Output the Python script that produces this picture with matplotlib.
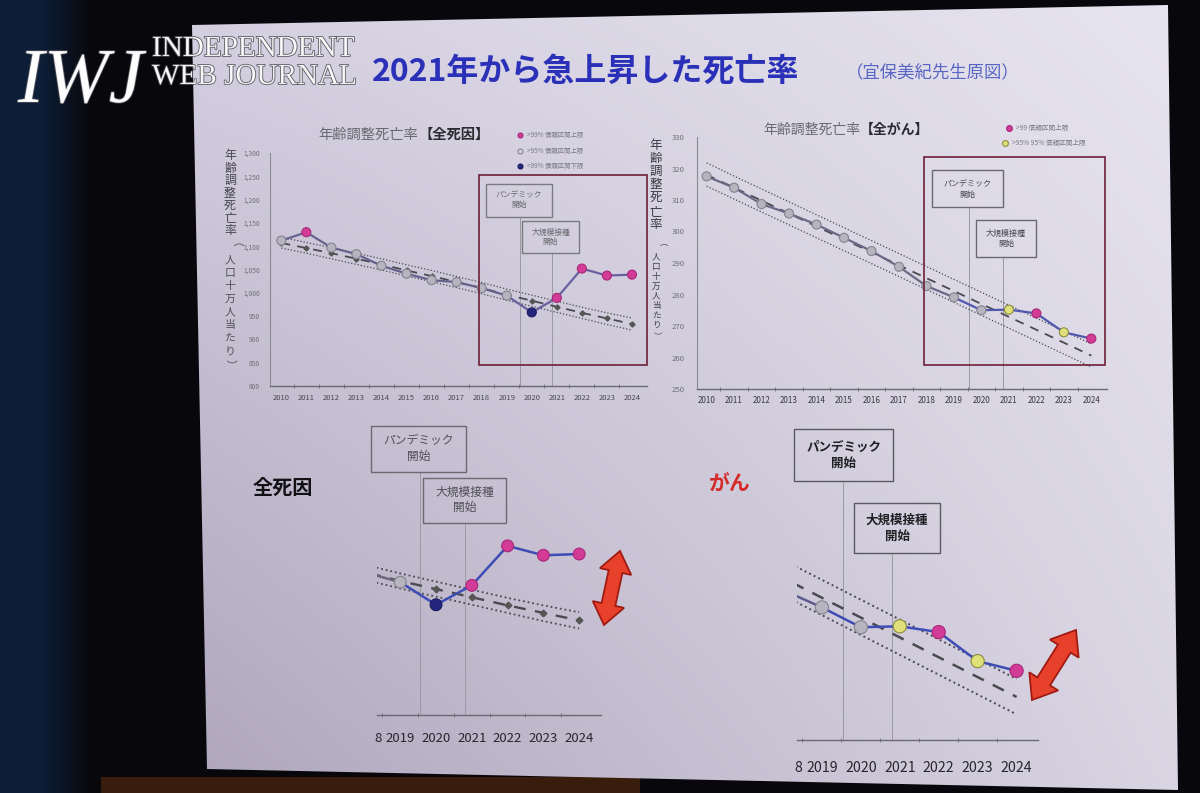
import numpy as np
import matplotlib
matplotlib.use("Agg")
import matplotlib.pyplot as plt
from matplotlib.patches import Rectangle, Polygon
import matplotlib.patheffects as pe

plt.rcParams['font.family'] = ['Noto Sans CJK JP', 'DejaVu Sans']

# ---------------- data ----------------
years = [2010, 2011, 2012, 2013, 2014, 2015, 2016, 2017,
         2018, 2019, 2020, 2021, 2022, 2023, 2024]
year_labels = [str(y) for y in years]

# all causes (age-adjusted mortality per 100k)
all_cause = [1112, 1130, 1097, 1083, 1058, 1041, 1027, 1023,
             1010, 994, 958, 989, 1052, 1037, 1039]
all_cause_expected = [1107, 1096, 1085, 1073, 1061, 1048, 1036, 1023,
                      1010, 996, 983, 970, 957, 945, 933]
all_cause_upper = [1119, 1108, 1097, 1085, 1073, 1060, 1048, 1035,
                   1022, 1008, 995, 982, 969, 957, 946]
all_cause_lower = [1096, 1085, 1073, 1061, 1049, 1036, 1024, 1011,
                   998, 984, 971, 958, 945, 932, 920]
all_cause_flag = ['n', 'u99', 'n', 'n', 'n', 'n', 'n', 'n',
                  'n', 'n', 'l99', 'u99', 'u99', 'u99', 'u99']
all_cause_yticks = [800, 850, 900, 950, 1000, 1050, 1100, 1150, 1200, 1250, 1300]
all_cause_yticklabels = ['800', '850', '900', '950', '1,000', '1,050', '1,100',
                         '1,150', '1,200', '1,250', '1,300']

# all cancers
cancer = [317.5, 313.9, 308.7, 305.7, 302.2, 298.0, 293.8, 288.8,
          282.7, 279.1, 275.0, 275.2, 274.0, 268.0, 266.0]
cancer_expected = [318.0, 313.9, 309.8, 305.7, 301.6, 297.5, 293.4, 289.3,
                   285.2, 281.1, 277.0, 272.9, 268.8, 264.7, 260.6]
cancer_upper = [321.8, 317.6, 313.5, 309.4, 305.3, 301.2, 297.1, 293.0,
                288.9, 284.8, 280.7, 276.6, 272.5, 268.4, 264.3]
cancer_lower = [314.4, 310.3, 306.2, 302.1, 298.0, 293.9, 289.8, 285.7,
                281.6, 277.5, 273.4, 269.3, 265.2, 261.1, 257.0]
cancer_flag = ['n', 'n', 'n', 'n', 'n', 'n', 'n', 'n',
               'n', 'n', 'n', 'u95', 'u99', 'u95', 'u99']
cancer_yticks = [250, 260, 270, 280, 290, 300, 310, 320, 330]

pandemic_x = 2019.55
vaccine_x = 2020.8

# ---------------- styling ----------------
W, H = 1200, 793
FLAG_FACE = {'n': '#b6b4be', 'u99': '#d23c96', 'l99': '#25257e', 'u95': '#e0e07a'}
FLAG_EDGE = {'n': '#85838f', 'u99': '#a8287a', 'l99': '#1a1a60', 'u95': '#8c8c40'}

fig = plt.figure(figsize=(12, 7.93), dpi=100)
fig.patch.set_facecolor('#08080b')


def rect(x0, y0, x1, y1):
    return [x0 / W, 1 - y1 / H, (x1 - x0) / W, (y1 - y0) / H]


# background (pixel coordinates)
bg = fig.add_axes([0, 0, 1, 1])
bg.set_xlim(0, W)
bg.set_ylim(H, 0)
bg.axis('off')

xx = np.arange(W)[None, :] / W
yy = np.arange(H)[:, None] / H
img = np.zeros((H, W, 3))
dark = np.array([0.035, 0.035, 0.05])
navy = np.array([0.05, 0.12, 0.22])
wcur = np.clip(1 - (np.arange(W) - 40) / 50.0, 0, 1)[None, :]
img[:] = dark
img = img * (1 - wcur[..., None]) + navy * wcur[..., None] * np.ones((H, 1, 1))
glow = ((np.arange(H)[:, None] > 776) & (np.arange(W)[None, :] > 100) & (np.arange(W)[None, :] < 640))
img[glow] = [0.22, 0.11, 0.05]
bg.imshow(img, extent=(0, W, H, 0), aspect='auto', zorder=0)

# slide with soft vignette
c_tl = np.array([0xd2, 0xcd, 0xdf]) / 255
c_tr = np.array([0xe7, 0xe5, 0xef]) / 255
c_bl = np.array([0xa6, 0x9c, 0xb4]) / 255
c_br = np.array([0xda, 0xd6, 0xe4]) / 255
X = xx[..., None]
Y = yy[..., None]
slide_img = (c_tl * (1 - X) * (1 - Y) + c_tr * X * (1 - Y) +
             c_bl * (1 - X) * Y + c_br * X * Y)
slide_poly = Polygon([(192, 25), (1168, 5), (1178, 790), (207, 769)],
                     closed=True, facecolor='none', edgecolor='none',
                     transform=bg.transData)
bg.add_patch(slide_poly)
im = bg.imshow(slide_img, extent=(0, W, H, 0), aspect='auto', zorder=1)
im.set_clip_path(slide_poly)
bg.set_xlim(0, W)
bg.set_ylim(H, 0)


# ---------------- chart helper ----------------
def draw_chart(ax, vals, exp, up, lo, flags, xlim, ylim, *, ms, lw,
               line_pre, line_post, exp_marker, band_lw, tick_fs,
               tick_color, label_pad, yaxis=True, yticks=None,
               yticklabels=None, ytick_fs=5, ypad=6):
    ax.patch.set_visible(False)
    ax.plot(years, up, ls=(0, (1, 1.6)), color='#4a4a55', lw=band_lw, zorder=2)
    ax.plot(years, lo, ls=(0, (1, 1.6)), color='#4a4a55', lw=band_lw, zorder=2)
    if exp_marker:
        ax.plot(years, exp, ls=(0, (5, 4)), color='#4a4a50', lw=band_lw + 0.4,
                marker='D', ms=exp_marker, mfc='#555', mec='#555', zorder=2)
    else:
        ax.plot(years, exp, ls=(0, (5, 4)), color='#4a4a50', lw=band_lw + 0.4, zorder=2)
    split = years.index(2019)
    ax.plot(years[:split + 1], vals[:split + 1], color=line_pre, lw=lw, zorder=3)
    ax.plot(years[split:], vals[split:], color=line_post, lw=lw, zorder=3)
    ax.scatter(years, vals, s=ms ** 2,
               c=[FLAG_FACE[f] for f in flags],
               edgecolors=[FLAG_EDGE[f] for f in flags],
               linewidths=0.8, zorder=4)
    for s in ['top', 'right']:
        ax.spines[s].set_visible(False)
    ax.spines['bottom'].set_color('#6a6a72')
    ax.spines['bottom'].set_linewidth(1.0)
    ax.set_xticks(years)
    ax.set_xticklabels(year_labels)
    ax.set_xticks([y + 0.5 for y in years[:-1]] + [years[0] - 0.5], minor=True)
    ax.tick_params(axis='x', which='major', length=0, labelsize=tick_fs,
                   labelcolor=tick_color, pad=label_pad)
    ax.tick_params(axis='x', which='minor', length=3, color='#6a6a72',
                   direction='inout')
    if yaxis:
        ax.spines['left'].set_color('#8a8a92')
        ax.spines['left'].set_linewidth(0.8)
        ax.set_yticks(yticks)
        ax.set_yticklabels(yticklabels)
        ax.tick_params(axis='y', length=0, labelsize=ytick_fs,
                       labelcolor='#707078', pad=ypad)
    else:
        ax.spines['left'].set_visible(False)
        ax.set_yticks([])
    ax.set_xlim(*xlim)
    ax.set_ylim(*ylim)
    ax.set_autoscale_on(False)


def event_boxes(ax, pand, vacc, fs, color, ybase, weight='normal', ec='#7a7a80'):
    for (x0, y0, w, h), label, xv in [(pand, 'パンデミック\n開始', pandemic_x),
                                       (vacc, '大規模接種\n開始', vaccine_x)]:
        ax.add_patch(Rectangle((x0, y0), w, h, fill=False, ec=ec, lw=1.0,
                               clip_on=False, zorder=5))
        ax.text(x0 + w / 2, y0 + h / 2, label, ha='center', va='center',
                fontsize=fs, color=color, linespacing=1.25, weight=weight,
                clip_on=False, zorder=5)
        ax.plot([xv, xv], [ybase, y0], color='#9a9aa2', lw=0.7, zorder=1,
                clip_on=False)


# ---------------- top-left: all causes ----------------
ax1 = fig.add_axes(rect(270, 153, 647, 386))
draw_chart(ax1, all_cause, all_cause_expected, all_cause_upper, all_cause_lower,
           all_cause_flag, (2009.55, 2024.6), (800, 1300), ms=6.5, lw=1.6,
           line_pre='#66628e', line_post='#6a609e', exp_marker=2.6, band_lw=0.9,
           tick_fs=5.5, tick_color='#4a4a52', label_pad=6,
           yticks=all_cause_yticks, yticklabels=all_cause_yticklabels,
           ytick_fs=4.8, ypad=7)
ax1.add_patch(Rectangle((2017.9, 845), 6.7, 408, fill=False, ec='#6e2038',
                        lw=1.2, clip_on=False, zorder=5))
event_boxes(ax1, (2018.17, 1162, 2.63, 72), (2019.6, 1085, 2.3, 69),
            5.6, '#6a6a70', 800)

# ---------------- top-right: all cancers ----------------
ax2 = fig.add_axes(rect(697, 137, 1107, 389))
draw_chart(ax2, cancer, cancer_expected, cancer_upper, cancer_lower,
           cancer_flag, (2009.65, 2024.57), (250, 330), ms=6.5, lw=1.6,
           line_pre='#6a6a86', line_post='#5058ae', exp_marker=None, band_lw=0.9,
           tick_fs=5.8, tick_color='#3a3a42', label_pad=5,
           yticks=cancer_yticks, yticklabels=[str(t) for t in cancer_yticks],
           ytick_fs=5.6, ypad=9)
ax2.add_patch(Rectangle((2017.9, 257.7), 6.6, 66, fill=False, ec='#6e2038',
                        lw=1.2, clip_on=False, zorder=5))
event_boxes(ax2, (2018.2, 307.8, 2.6, 11.6), (2019.8, 292, 2.2, 11.6),
            5.8, '#4a4a50', 250, ec='#6a6a70')

# ---------------- bottom-left: zoom all causes ----------------
ax3 = fig.add_axes(rect(377, 420, 601, 715))
draw_chart(ax3, all_cause, all_cause_expected, all_cause_upper, all_cause_lower,
           all_cause_flag, (2018.35, 2024.61), (782, 1253), ms=8.5, lw=1.8,
           line_pre='#6a6a78', line_post='#3e4cb5', exp_marker=3.4, band_lw=1.3,
           tick_fs=9.5, tick_color='#26262c', label_pad=12.5, yaxis=False)
ax3.text(2018.39, -0.081, '8', transform=ax3.get_xaxis_transform(),
         ha='center', va='center', fontsize=9.5, color='#26262c')
event_boxes(ax3, (2018.18, 1170, 2.66, 74), (2019.64, 1089, 2.32, 72),
            8.5, '#505058', 782, ec='#6a6a70')

# ---------------- bottom-right: zoom cancers ----------------
ax4 = fig.add_axes(rect(797, 425, 1038, 740))
draw_chart(ax4, cancer, cancer_expected, cancer_upper, cancer_lower,
           cancer_flag, (2018.36, 2024.55), (251.7, 316.8), ms=9.5, lw=1.8,
           line_pre='#5a5a8c', line_post='#3e4cb5', exp_marker=None, band_lw=1.4,
           tick_fs=10.2, tick_color='#26262c', label_pad=15, yaxis=False)
ax4.text(2018.39, -0.089, '8', transform=ax4.get_xaxis_transform(),
         ha='center', va='center', fontsize=10.2, color='#26262c')
event_boxes(ax4, (2018.29, 305.2, 2.54, 10.7), (2019.83, 290.3, 2.2, 10.3),
            9, '#202024', 251.7, weight='bold', ec='#5a5a60')

# ---------------- overlay (pixel coordinates) ----------------
ov = fig.add_axes([0, 0, 1, 1])
ov.set_xlim(0, W)
ov.set_ylim(H, 0)
ov.axis('off')
ov.patch.set_visible(False)

# slide title
ov.text(372, 72, '2021年から急上昇した死亡率', fontsize=23, weight='bold',
        color='#2b30b8', ha='left', va='center')
ov.text(846, 72, '（宜保美紀先生原図）', fontsize=12.5, color='#5865c4',
        ha='left', va='center')

# chart titles
ov.text(418, 135, '年齢調整死亡率', fontsize=10.3, color='#6a6a72',
        ha='right', va='center')
ov.text(418, 135, '【全死因】', fontsize=10.3, color='#2a2a30', weight='bold',
        ha='left', va='center')
ov.text(860, 130, '年齢調整死亡率', fontsize=10, color='#6a6a72',
        ha='right', va='center')
ov.text(860, 130, '【全がん】', fontsize=10, color='#2a2a30', weight='bold',
        ha='left', va='center')

# legends
leg1 = [('u99', '>99% 信頼区間上限', 135), ('n', '>95% 信頼区間上限', 151),
        ('l99', '<99% 信頼区間下限', 166)]
for f, lab, y in leg1:
    ov.plot([520], [y], marker='o', ms=3.6, mfc=FLAG_FACE[f] if f != 'n' else 'none',
            mec=FLAG_EDGE[f], mew=0.8, ls='none')
    ov.text(527, y, lab, fontsize=4.6, color='#7a7a84', ha='left', va='center')
leg2 = [('u99', '>99 信頼区間上限', 128, 1009), ('u95', '>95% 95% 信頼区間上限', 143, 1005)]
for f, lab, y, x in leg2:
    ov.plot([x], [y], marker='o', ms=4.2, mfc=FLAG_FACE[f], mec=FLAG_EDGE[f],
            mew=0.8, ls='none')
    ov.text(x + 7, y, lab, fontsize=4.8, color='#7a7a84', ha='left', va='center')


# vertical y-axis labels
def vlabel(x, y0, step, text, fs, color):
    y = y0
    for ch in text:
        if ch in '（）':
            ov.text(x, y, ch, fontsize=fs, color=color, ha='center', va='center',
                    rotation=-90)
        else:
            ov.text(x, y, ch, fontsize=fs, color=color, ha='center', va='center')
        y += step
    return y


vlabel(230, 156, 12.4, '年齢調整死亡率', 8.6, '#46464e')
vlabel(230, 247, 13.0, '（人口十万人当たり）', 7.8, '#505058')
vlabel(656, 145, 13.3, '年齢調整死亡率', 9.0, '#3a3a42')
vlabel(656, 247, 9.8, '（人口十万人当たり）', 6.2, '#404048')

# section labels
ov.text(253, 487, '全死因', fontsize=14.5, weight='bold', color='#111116',
        ha='left', va='center')
ov.text(709, 484, 'がん', fontsize=15, weight='bold', color='#d42a2a',
        ha='left', va='center')


# double-headed red arrows
def dbl_arrow(p_top, p_bot, shaft_w, head_w, head_len):
    p1 = np.array(p_top, float)
    p2 = np.array(p_bot, float)
    d = p2 - p1
    u = d / np.hypot(*d)
    n = np.array([-u[1], u[0]])
    pts = [p1,
           p1 + u * head_len + n * head_w / 2,
           p1 + u * head_len + n * shaft_w / 2,
           p2 - u * head_len + n * shaft_w / 2,
           p2 - u * head_len + n * head_w / 2,
           p2,
           p2 - u * head_len - n * head_w / 2,
           p2 - u * head_len - n * shaft_w / 2,
           p1 + u * head_len - n * shaft_w / 2,
           p1 + u * head_len - n * head_w / 2]
    ov.add_patch(Polygon(pts, closed=True, fc='#e8412b', ec='#a01a12', lw=1.3,
                         joinstyle='miter', zorder=6))


dbl_arrow((620, 551), (604, 625), 14, 32, 21)
dbl_arrow((1076, 630), (1032, 700), 15, 34, 22)
ov.set_xlim(0, W)
ov.set_ylim(H, 0)

# IWJ watermark
stroke = [pe.withStroke(linewidth=1.2, foreground='#50505a')]
ov.text(18, 102, 'IWJ', fontsize=56, style='italic', family='Liberation Serif',
        color='white', alpha=0.92, ha='left', va='baseline', path_effects=stroke)
ov.text(152, 56, 'INDEPENDENT', fontsize=21, family='Liberation Serif',
        color='white', alpha=0.9, ha='left', va='baseline', path_effects=stroke)
ov.text(152, 84, 'WEB JOURNAL', fontsize=21, family='Liberation Serif',
        color='white', alpha=0.9, ha='left', va='baseline', path_effects=stroke)

fig.savefig('out.png', dpi=100, facecolor=fig.get_facecolor())
